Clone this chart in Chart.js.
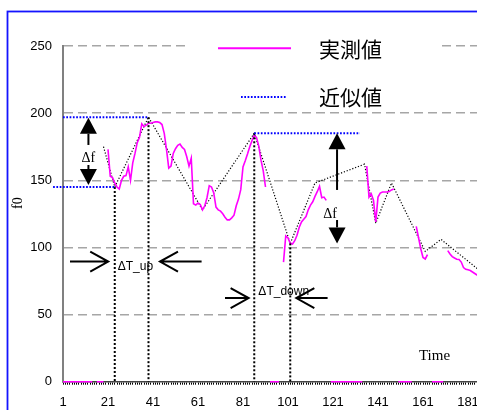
<!DOCTYPE html>
<html>
<head>
<meta charset="utf-8">
<script src="https://cdn.jsdelivr.net/npm/chart.js@4/dist/chart.umd.min.js"></script>
<style>
  html, body { margin: 0; padding: 0; overflow: hidden; background: #fff; }
  canvas { display: block; }
</style>
</head>
<body>
<canvas id="f0Chart" width="495" height="430"></canvas>
<script>
// frame numbers along the time axis
const frames = Array.from({ length: 186 }, (_, i) => i + 1);

// measured f0 per frame (0 = unvoiced frame, null = break in the line)
const measured = [
    // 1-20
    0, 0, 0, 0, 0, 0, 0, 0, 0, 0, 0, 0, 0, 0, null, 0, 0, 0, 0, null,
    // 21-40
    173, 153, 152, 148, 145, 143.5, 150, 153, 153.5, 160, 150, 163, 170, 178, 182, 192, 190, 191, 192.5, 192.5,
    // 41-60
    193, 193.5, 193.5, 193, 191.5, 185, 173, 159, 160.5, 170, 173.5, 176, 177, 174.5, 173, 167.5, 160.5, 166.5, 132.5, 131.5,
    // 61-80
    133, 132, 128, 131, 137, 146, 145, 140.5, 130, 128, 127, 125, 122.5, 120.5, 120.5, 122, 124, 131, 136, 143,
    // 81-100
    160, 164.5, 169.5, 175, 179.5, 183.5, 182, 175.5, 165, 157, 145, null, 0, 0, 0, 0, 0, null, 89, 108.5,
    // 101-120
    107, 103, 102.5, 105, 109, 115, 119, 121, 123, 128, 131.5, 134, 138, 141.5, 145.5, 137, 137.5, 135, null, 0,
    // 121-140
    0, 0, 0, 0, 0, 0, 0, 0, 0, 0, 0, 0, 0, 0, null, 160.5, 137.5, 140, 135, 119,
    // 141-160
    137.5, 140.5, 141.3, 141.3, 141.3, 141.6, 142.8, 143.5, null, 0, 0, 0, 0, 0, 0, 0, null, 115.7, 107.4, 99,
    // 161-180
    92.5, 91.4, 94.7, null, 0, 0, 0, 0, 0, 0, null, 97.6, 95.1, 93.2, 92.1, 91.2, 91, 89.1, 85, 83.7,
    // 181-186
    83.3, 82.8, 81.7, 80.6, 79.5, 78.7
];

// piecewise linear approximation: vertex frames and their values
const approxFrames = [19, 24, 39, 63, 86, 102, 113, 135, 140, 147, 162, 169, 186];
const approxValues = [175, 145, 197, 128, 185, 103, 148, 162, 118, 148, 97, 106, 83];

// rise / fall markers
const deltaTFrames = [24, 39, 86, 102];
const deltaFLevels = [
    { value: 197, from: 1, to: 39 },
    { value: 145, from: -3.4, to: 24 },
    { value: 185, from: 86, to: 133 }
];

const approx = frames.map(f => {
    const k = approxFrames.indexOf(f);
    return k < 0 ? null : approxValues[k];
});

function filledArrow(ctx, x, y0, y1, headLen, headHalf) {
    const dir = Math.sign(y1 - y0);
    const yb = y1 - dir * headLen;
    ctx.beginPath();
    ctx.moveTo(x, y0);
    ctx.lineTo(x, yb);
    ctx.stroke();
    ctx.beginPath();
    ctx.moveTo(x, y1);
    ctx.lineTo(x - headHalf, yb);
    ctx.lineTo(x + headHalf, yb);
    ctx.closePath();
    ctx.fill();
}

function openArrow(ctx, x0, x1, y, headLen, headHalf) {
    const dir = Math.sign(x1 - x0);
    ctx.beginPath();
    ctx.moveTo(x0, y);
    ctx.lineTo(x1, y);
    ctx.moveTo(x1 - dir * headLen, y - headHalf);
    ctx.lineTo(x1, y);
    ctx.lineTo(x1 - dir * headLen, y + headHalf);
    ctx.stroke();
}

// frame, legend box and the delta-f / delta-T markup
const markup = {
    id: 'markup',
    beforeDraw(chart) {
        const { ctx, width, height } = chart;
        ctx.save();
        ctx.fillStyle = '#fff';
        ctx.fillRect(0, 0, width, height);
        ctx.strokeStyle = '#1414ff';
        ctx.lineWidth = 1.8;
        ctx.strokeRect(7.5, 11.5, width - 15, height - 20);
        ctx.restore();
    },
    afterDatasetsDraw(chart) {
        const { ctx, chartArea, scales: { x, y } } = chart;
        const px = f => x.getPixelForValue(f - 1);
        const py = v => y.getPixelForValue(v);
        ctx.save();

        // vertical markers at the turning points
        ctx.strokeStyle = '#000';
        ctx.lineWidth = 2;
        ctx.setLineDash([2, 2]);
        deltaTFrames.forEach(f => {
            const v = approxValues[approxFrames.indexOf(f)];
            ctx.beginPath();
            ctx.moveTo(px(f), py(v));
            ctx.lineTo(px(f), py(0));
            ctx.stroke();
        });

        // blue dotted levels
        ctx.strokeStyle = '#0000ff';
        ctx.setLineDash([1.7, 1.6]);
        deltaFLevels.forEach(l => {
            ctx.beginPath();
            ctx.moveTo(px(l.from), py(l.value));
            ctx.lineTo(px(l.to), py(l.value));
            ctx.stroke();
        });
        ctx.setLineDash([]);

        // delta f arrows
        ctx.strokeStyle = '#000';
        ctx.fillStyle = '#000';
        ctx.lineWidth = 2;
        [
            { frame: 12.3, from: 176.3, to: 196.5 },
            { frame: 12.3, from: 161.4, to: 146.5 },
            { frame: 122.8, from: 142.8, to: 185 },
            { frame: 122.8, from: 120.4, to: 103 }
        ].forEach(a => filledArrow(ctx, px(a.frame), py(a.from), py(a.to), 16, 8.5));

        // delta T arrows
        [
            { value: 89.5, from: 4.1, to: 21.1 },
            { value: 89.5, from: 62.6, to: 44.1 },
            { value: 62.3, from: 73, to: 83.5 },
            { value: 62.3, from: 118.6, to: 104.7 }
        ].forEach(a => openArrow(ctx, px(a.from), px(a.to), py(a.value), 18, 10));

        // text
        ctx.textAlign = 'center';
        ctx.textBaseline = 'middle';
        [
            { text: 'Δf', frame: 12.3, value: 166.6, font: '14px "Liberation Serif"' },
            { text: 'Δf', frame: 119.7, value: 124.5, font: '14px "Liberation Serif"' },
            { text: 'ΔT_up', frame: 33.2, value: 85.4, font: '12px "Liberation Sans"' },
            { text: 'ΔT_down', frame: 99.1, value: 66.8, font: '12px "Liberation Sans"' },
            { text: 'Time', frame: 166.1, value: 19.1, font: '15px "Liberation Serif"' }
        ].forEach(t => {
            ctx.font = t.font;
            ctx.fillText(t.text, px(t.frame), py(t.value));
        });

        // y axis title
        ctx.translate(18, py(133));
        ctx.rotate(-Math.PI / 2);
        ctx.font = '14px "Liberation Serif"';
        ctx.fillText('f0', 0, 0);
        ctx.restore();
    },
    afterDraw(chart) {
        const { ctx } = chart;
        const sets = chart.data.datasets;
        ctx.save();
        ctx.fillStyle = '#fff';
        ctx.fillRect(190, 24, 250, 84);

        ctx.lineWidth = 2;
        ctx.strokeStyle = sets[0].borderColor;
        ctx.beginPath();
        ctx.moveTo(218, 48.3);
        ctx.lineTo(291, 48.3);
        ctx.stroke();

        ctx.strokeStyle = '#0000ff';
        ctx.setLineDash([1.7, 1.6]);
        ctx.beginPath();
        ctx.moveTo(241, 97);
        ctx.lineTo(287, 97);
        ctx.stroke();
        ctx.setLineDash([]);

        ctx.fillStyle = '#000';
        ctx.font = '21px "Noto Sans CJK JP"';
        ctx.textBaseline = 'middle';
        ctx.fillText(sets[0].label, 319, 49);
        ctx.fillText(sets[1].label, 319, 97);
        ctx.restore();
    }
};

const ctxF0 = document.getElementById('f0Chart').getContext('2d');
const f0Chart = new Chart(ctxF0, {
    type: 'line',
    data: {
        labels: frames,
        datasets: [{
            label: '実測値',
            data: measured,
            borderColor: '#ff00ff',
            borderWidth: 1.6,
            pointRadius: 0,
            spanGaps: false,
            clip: false
        }, {
            label: '近似値',
            data: approx,
            borderColor: '#000',
            borderWidth: 1.2,
            borderDash: [1.2, 1.8],
            pointRadius: 0,
            spanGaps: true
        }]
    },
    options: {
        responsive: false,
        animation: false,
        layout: {
            padding: { left: 0, top: 46, right: 15.75, bottom: 0 }
        },
        scales: {
            x: {
                type: 'category',
                grid: {
                    drawOnChartArea: false,
                    color: '#000',
                    lineWidth: 1,
                    tickLength: 3
                },
                border: { color: '#444', width: 1.5 },
                ticks: {
                    autoSkip: false,
                    maxRotation: 0,
                    padding: 10,
                    color: '#000',
                    font: { family: 'Liberation Sans', size: 13 },
                    callback: (value, index) => index % 20 === 0 ? frames[index] : ''
                },
                afterFit: scale => { scale.height = 48.3; }
            },
            y: {
                min: 0,
                max: 250,
                grid: {
                    color: c => c.tick.value === 0 ? 'rgba(0,0,0,0)' : '#a6a6a6',
                    lineWidth: 1.5,
                    drawTicks: false
                },
                border: { color: '#808080', width: 2, dash: [9, 5] },
                ticks: {
                    stepSize: 50,
                    padding: 11,
                    color: '#000',
                    font: { family: 'Liberation Sans', size: 13 }
                },
                afterFit: scale => { scale.width = 63; }
            }
        },
        plugins: {
            legend: { display: false },
            tooltip: { enabled: false }
        }
    },
    plugins: [markup]
});
</script>
</body>
</html>
